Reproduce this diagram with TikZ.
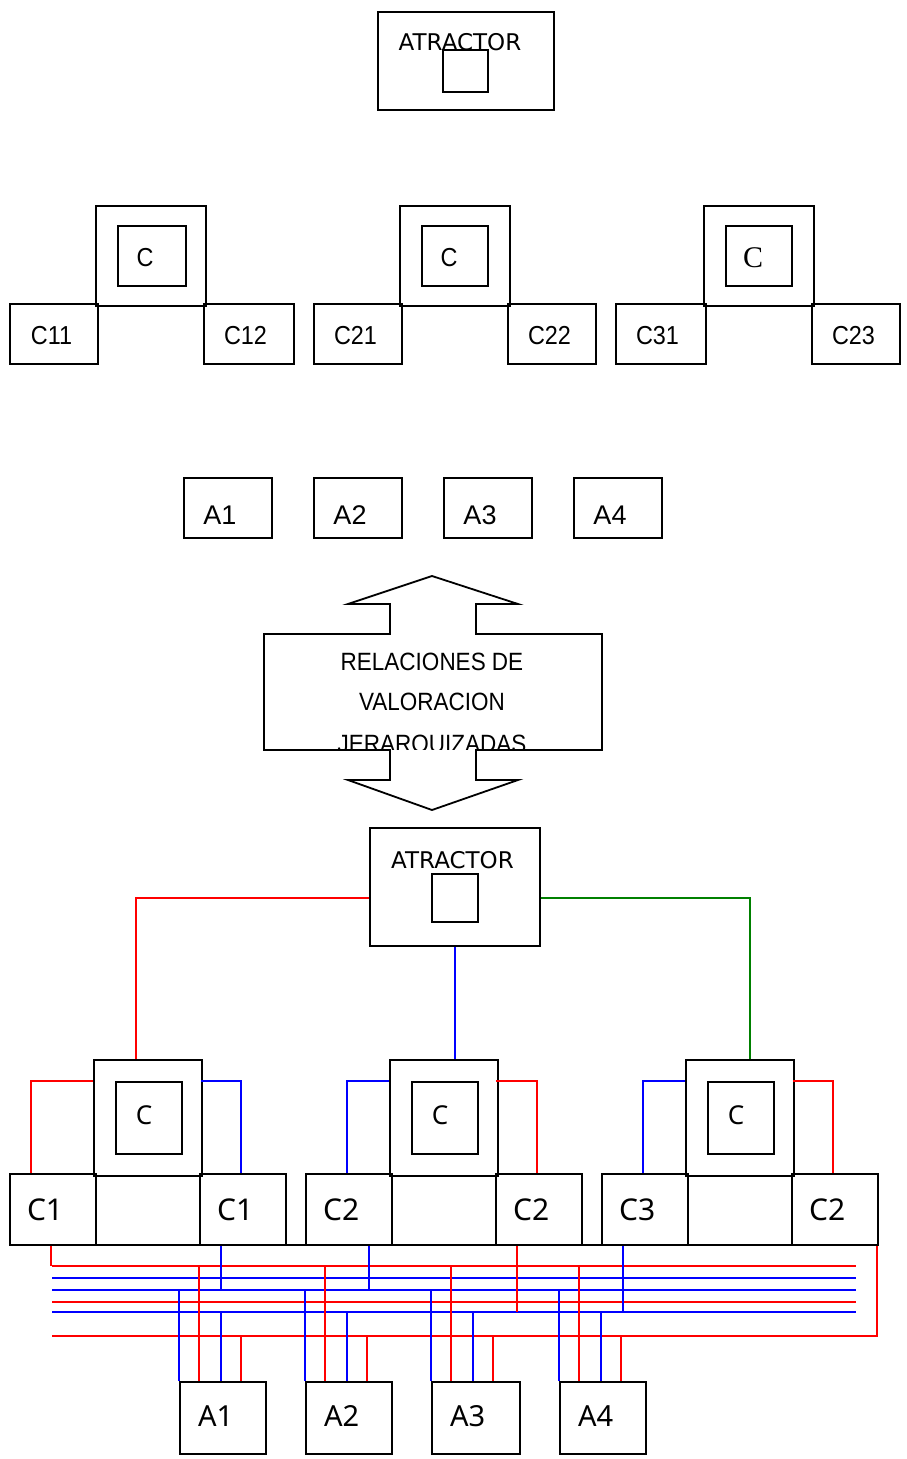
\documentclass[tikz,border=0pt]{standalone}
\usepackage{fontspec}
\setmainfont{Noto Sans}
\newfontfamily\arialf{Liberation Sans}
\newfontfamily\arialn[FakeStretch=0.9]{Liberation Sans}
\newfontfamily\dejaf{DejaVu Sans}
\newfontfamily\timesf{Liberation Serif}
\usetikzlibrary{calc}
\definecolor{wgreen}{RGB}{0,128,0}
\def \boxLine {1.8pt}
\def \wireLine {1.3pt}
\def \setfs #1{\fontsize{#1}{#1}\selectfont}

\begin{document}
\begin{tikzpicture}[x=1pt,y=-1pt,
      bx/.style 2 args={draw,line width=\boxLine,inner sep=0pt,minimum width=#1,minimum height=#2},
      lbl/.style={inner sep=0pt,anchor=base},
      wire/.style={draw=#1,line width=\wireLine}]
   \useasboundingbox (0,0) rectangle (906,1459);

   % upper part
   \node[lbl,font=\dejaf\setfs{23}] (atrAt) at (460,50) {ATRACTOR};
   \node[bx={176pt}{98pt}] (atrA) at (466,61) {};
   \node[bx={45pt}{42pt}] (atrAin) at (465.5,71) {};

   \node[bx={110pt}{100pt}] (cA1) at (151,256) {};
   \node[bx={68pt}{60pt}] (cA1in) at (152,256) {};
   \node[bx={88pt}{60pt}] (c11) at (54,334) {};
   \node[bx={90pt}{60pt}] (c12) at (249,334) {};
   \node[bx={110pt}{100pt}] (cA2) at (455,256) {};
   \node[bx={66pt}{60pt}] (cA2in) at (455,256) {};
   \node[bx={88pt}{60pt}] (c21) at (358,334) {};
   \node[bx={88pt}{60pt}] (c22) at (552,334) {};
   \node[bx={110pt}{100pt}] (cA3) at (759,256) {};
   \node[bx={66pt}{60pt}] (cA3in) at (759,256) {};
   \node[bx={90pt}{60pt}] (c31) at (661,334) {};
   \node[bx={88pt}{60pt}] (c23) at (856,334) {};

   \node[lbl,font=\arialn\setfs{26}] (cA1t) at (145,266) {C};
   \node[lbl,font=\arialn\setfs{26}] (cA2t) at (449,266) {C};
   \node[lbl,font=\timesf\setfs{30}] (cA3t) at (753,267) {C};
   \foreach \b/\cx/\t in {c11/51.5/C11, c12/245.5/C12, c21/355.5/C21, c22/549.5/C22, c31/657.5/C31, c23/853.5/C23}
      \node[lbl,font=\arialn\setfs{26}] (\b t) at (\cx,344) {\t};

   \foreach \i/\cx in {1/228,2/358,3/488,4/618} {
      \node[bx={88pt}{60pt}] (a\i) at (\cx,508) {};
      \node[lbl,font=\arialf\setfs{27}] (a\i t) at (\cx-8,524) {A\i};
   }

   % double arrow
   \draw[line width=\boxLine] (432,576) -- (518,604) -- (476,604) -- (476,634) -- (602,634) -- (602,750)
      -- (476,750) -- (476,780) -- (518,780) -- (432,810) -- (348,780) -- (390,780) -- (390,750)
      -- (264,750) -- (264,634) -- (390,634) -- (390,604) -- (348,604) -- cycle;
   \begin{scope}
      \clip (264,634) rectangle (602,749);
      \node[lbl,font=\arialn\setfs{25}] (rel1) at (432,670) {RELACIONES DE};
      \node[lbl,font=\arialn\setfs{25}] (rel2) at (432,710) {VALORACION};
      \node[lbl,font=\arialn\setfs{25}] (rel3) at (432,752) {JERARQUIZADAS};
   \end{scope}

   % lower part
   \node[lbl,font=\dejaf\setfs{23}] (atrBt) at (452.5,868) {ATRACTOR};
   \node[bx={170pt}{118pt}] (atrB) at (455,887) {};
   \node[bx={46pt}{48pt}] (atrBin) at (455,898) {};

   \foreach \n/\cx/\lx/\rx in {1/148/53/243, 2/444/349/539, 3/740/645/835} {
      \node[bx={108pt}{116pt}] (cB\n) at (\cx,1118) {};
      \node[bx={66pt}{72pt}] (cB\n in) at (\cx+1,1118) {};
      \node[bx={86pt}{71pt}] (cB\n l) at (\lx,1209.5) {};
      \node[bx={86pt}{71pt}] (cB\n r) at (\rx,1209.5) {};
      \node[lbl,font=\setfs{26}] (cB\n t) at (\cx-4,1124) {C};
   }
   \foreach \b/\t in {cB1l/C1, cB1r/C1, cB2l/C2, cB2r/C2, cB3l/C3, cB3r/C2}
      \node[lbl,font=\setfs{30}] (\b t) at ($(\b.west)+(36,10.5)$) {\t};
   \draw[line width=\boxLine] (52,1245) -- (856,1245);

   \foreach \i/\cx/\w in {1/223/86, 2/349/86, 3/476/88, 4/603/86} {
      \node[bx={\w pt}{72pt}] (Ab\i) at (\cx,1418) {};
      \node[lbl,font=\setfs{29}] (Ab\i t) at ($(Ab\i.west)+(36.5,8)$) {A\i};
   }

   \draw[wire=red] ($(atrB.west)+(0,11)$) -| ($(cB1.north)+(-12,0)$);
   \draw[wire=blue] (atrB.south) -- (atrB.south |- cB2.north);
   \draw[wire=wgreen] ($(atrB.east)+(0,11)$) -| ($(cB3.north)+(10,0)$);

   \draw[wire=red] ($(cB1.north west)+(0,22)$) -| ($(cB1l.north west)+(22,0)$);
   \draw[wire=blue] ($(cB1.north east)+(-2,22)$) -| ($(cB1r.north west)+(42,0)$);
   \draw[wire=blue] ($(cB2.north west)+(0,22)$) -| ($(cB2l.north west)+(42,0)$);
   \draw[wire=red] ($(cB2.north east)+(-3,22)$) -| ($(cB2r.north west)+(42,0)$);
   \draw[wire=blue] ($(cB3.north west)+(0,22)$) -| ($(cB3l.north west)+(42,0)$);
   \draw[wire=red] ($(cB3.north east)+(-2,22)$) -| ($(cB3r.north west)+(42,0)$);

   \foreach \k/\y in {1/1266,2/1278,3/1290,4/1302,5/1312,6/1336} {
      \coordinate (bw\k) at (52,\y);
      \coordinate (be\k) at (856,\y);
   }
   \foreach \k/\c in {1/red,2/blue,3/blue,4/red,5/blue}
      \draw[wire=\c] (bw\k) -- (be\k);
   \draw[wire=red] ($(cB3r.south east)+(-2,0)$) |- (bw6);

   \foreach \b/\dx/\k/\c in {cB1l/42/1/red, cB1r/22/3/blue, cB2l/64/3/blue, cB2r/22/5/red, cB3l/22/5/blue} {
      \coordinate (\b d) at ($(\b.south west)+(\dx,0)$);
      \draw[wire=\c] (\b d) -- (\b d |- bw\k);
   }
   \foreach \i in {1,...,4} {
      \foreach \m/\dx/\k/\c in {1/0/3/blue, 2/20/1/red, 3/42/5/blue, 4/62/6/red} {
         \coordinate (t\i\m) at ($(Ab\i.north west)+(\dx,0)$);
         \draw[wire=\c] (t\i\m) -- (t\i\m |- bw\k);
      }
   }
\end{tikzpicture}
\end{document}
